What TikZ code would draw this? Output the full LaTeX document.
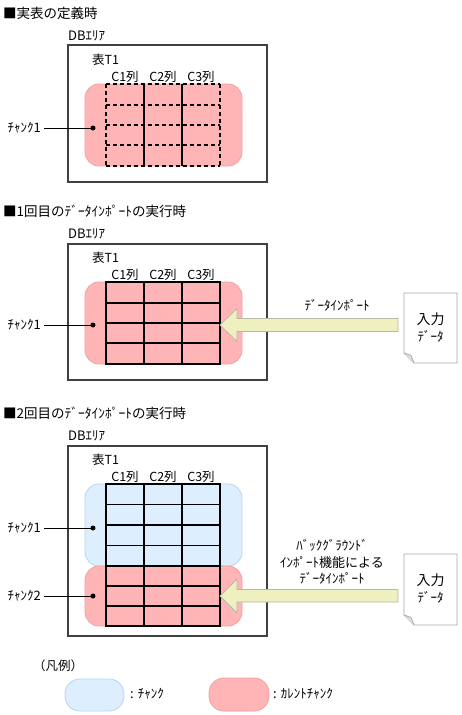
\documentclass[tikz,border=0pt]{standalone}
\usepackage{fontspec}
\setmainfont{Noto Sans CJK JP}
\definecolor{pinkF}{HTML}{FFB5B5}
\definecolor{pinkD}{HTML}{F4A0A0}
\definecolor{blueF}{HTML}{DDEEFF}
\definecolor{blueD}{HTML}{B5D5F5}
\definecolor{arrowF}{HTML}{EEF0C0}
\definecolor{arrowD}{HTML}{B8B8A8}
\definecolor{docD}{HTML}{A8A8A8}
\definecolor{boxD}{HTML}{404040}
\tikzset{
  lbl/.style={inner sep=0pt, font=\fontsize{12.5}{15}\selectfont},
  kana/.style={inner sep=0pt, font=\fontsize{13}{15}\selectfont},
  ttl/.style={inner sep=0pt, anchor=west, font=\fontsize{13.5}{16}\selectfont},
  dbbox/.style={draw=boxD, line width=1.1pt, fill=white},
  pinkchunk/.style={draw=pinkD, fill=pinkF, line width=0.8pt, rounded corners=14pt, inner sep=0pt},
  bluechunk/.style={draw=blueD, fill=blueF, line width=0.8pt, rounded corners=14pt, inner sep=0pt},
  tbl/.style={line width=1.2pt, black},
  tbldash/.style={line width=1.2pt, black, dash pattern=on 4pt off 3pt},
  dotnode/.style={circle, fill=black, inner sep=0pt, minimum size=5pt},
  leader/.style={line width=0.8pt, black},
  bigarrow/.style={draw=arrowD, fill=arrowF, line width=0.8pt, line join=miter},
  docshape/.style={draw=docD, fill=white, line width=0.8pt},
}
\begin{document}
\begin{tikzpicture}[x=1pt,y=-1pt]
\useasboundingbox (0,0) rectangle (461,715);

% ===== Section 1 =====
\node[ttl] (t1) at (3,13) {■実表の定義時};
\node[kana, anchor=west] (db1l) at (68,36) {DBｴﾘｱ};
\draw[dbbox] (68,45) rectangle (267,182);
\node[lbl, anchor=west] (tb1l) at (92,60) {表T1};
\node[lbl] (c11) at (125,77) {C1列};
\node[lbl] (c12) at (163,77) {C2列};
\node[lbl] (c13) at (201,77) {C3列};
\node[pinkchunk, minimum width=157pt, minimum height=82pt] (ch1) at (163.5,125) {};
\draw[tbl] (144,84) -- (144,166) (182,84) -- (182,166);
\draw[tbldash] (106,84) -- (106,166) (220,84) -- (220,166);
\foreach \yy in {84,105,125,145,166} \draw[tbldash] (106,\yy) -- (220,\yy);
\node[kana, anchor=east] (k1) at (41,128) {ﾁｬﾝｸ1};
\node[dotnode] (d1) at (93,128) {};
\draw[leader, shorten <=3pt] (k1.east) -- (d1.center);

% ===== Section 2 =====
\node[ttl] (t2) at (3,211) {■1回目のﾃﾞｰﾀｲﾝﾎﾟｰﾄの実行時};
\node[kana, anchor=west] (db2l) at (68,234) {DBｴﾘｱ};
\draw[dbbox] (68,244) rectangle (267,380);
\node[lbl, anchor=west] (tb2l) at (92,258) {表T1};
\node[lbl] (c21) at (125,275) {C1列};
\node[lbl] (c22) at (163,275) {C2列};
\node[lbl] (c23) at (201,275) {C3列};
\node[pinkchunk, minimum width=157pt, minimum height=82pt] (ch2) at (163.5,323) {};
\draw[tbl] (106,282) rectangle (220,364);
\draw[tbl] (144,282) -- (144,364) (182,282) -- (182,364);
\foreach \yy in {303,323,343} \draw[tbl] (106,\yy) -- (220,\yy);
\node[kana, anchor=east] (k2) at (41,325) {ﾁｬﾝｸ1};
\node[dotnode] (d2) at (93,325) {};
\draw[leader, shorten <=3pt] (k2.east) -- (d2.center);
% document
\coordinate (doc2) at (404,293);
\draw[docshape] (doc2) -- ++(53,0) -- ++(0,70) -- ++(-43,0) -- ++(-10,-10) -- cycle;
\draw[docshape, fill=docD!35] (404,353) -- (411,355.5) -- (414,363);
\node[lbl] (in2a) at (430.5,319) {\fontsize{14}{16}\selectfont 入力};
\node[kana] (in2b) at (430.5,336) {ﾃﾞｰﾀ};
% arrow
\draw[bigarrow] (220,325) -- (237,308.5) -- (237,318.5) -- (398,318.5) -- (398,331.5) -- (237,331.5) -- (237,341.5) -- cycle;
\node[kana] (imp2) at (337,305) {ﾃﾞｰﾀｲﾝﾎﾟｰﾄ};

% ===== Section 3 =====
\node[ttl] (t3) at (3,413) {■2回目のﾃﾞｰﾀｲﾝﾎﾟｰﾄの実行時};
\node[kana, anchor=west] (db3l) at (68,436) {DBｴﾘｱ};
\draw[dbbox] (68,446) rectangle (267,636);
\node[lbl, anchor=west] (tb3l) at (92,460) {表T1};
\node[lbl] (c31) at (125,477) {C1列};
\node[lbl] (c32) at (163,477) {C2列};
\node[lbl] (c33) at (201,477) {C3列};
\node[bluechunk, minimum width=157pt, minimum height=82pt] (ch31) at (163.5,525) {};
\node[pinkchunk, minimum width=157pt, minimum height=60pt] (ch32) at (163.5,596) {};
\draw[tbl] (106,484) rectangle (220,626);
\draw[tbl] (144,484) -- (144,626) (182,484) -- (182,626);
\foreach \yy in {504.5,525,545.5,566,586,606} \draw[tbl] (106,\yy) -- (220,\yy);
\node[kana, anchor=east] (k31) at (41,528) {ﾁｬﾝｸ1};
\node[dotnode] (d31) at (93,528) {};
\draw[leader, shorten <=3pt] (k31.east) -- (d31.center);
\node[kana, anchor=east] (k32) at (41,596) {ﾁｬﾝｸ2};
\node[dotnode] (d32) at (93,596) {};
\draw[leader, shorten <=3pt] (k32.east) -- (d32.center);
% document
\coordinate (doc3) at (404,554);
\draw[docshape] (doc3) -- ++(53,0) -- ++(0,71) -- ++(-43,0) -- ++(-10,-10) -- cycle;
\draw[docshape, fill=docD!35] (404,615) -- (411,617.5) -- (414,625);
\node[lbl] (in3a) at (430.5,580) {\fontsize{14}{16}\selectfont 入力};
\node[kana] (in3b) at (430.5,597) {ﾃﾞｰﾀ};
% arrow
\draw[bigarrow] (220,596) -- (237,579) -- (237,589.5) -- (398,589.5) -- (398,602) -- (237,602) -- (237,613) -- cycle;
\node[kana, align=center, font=\fontsize{13}{16.5}\selectfont] (imp3) at (332,562) {ﾊﾞｯｸｸﾞﾗｳﾝﾄﾞ\\ｲﾝﾎﾟｰﾄ機能による\\ﾃﾞｰﾀｲﾝﾎﾟｰﾄ};

% ===== Legend =====
\node[lbl, anchor=west] (leg) at (33,666) {（凡例）};
\node[bluechunk, minimum width=59pt, minimum height=32pt, rounded corners=15pt] (lb) at (94.5,695) {};
\node[kana, anchor=west] (lbt) at (130,694) {:\hspace{4pt}ﾁｬﾝｸ};
\node[pinkchunk, minimum width=60pt, minimum height=33pt, rounded corners=15pt] (lp) at (239,694.5) {};
\node[kana, anchor=west] (lpt) at (273,694) {:\hspace{4pt}ｶﾚﾝﾄﾁｬﾝｸ};
\end{tikzpicture}
\end{document}
